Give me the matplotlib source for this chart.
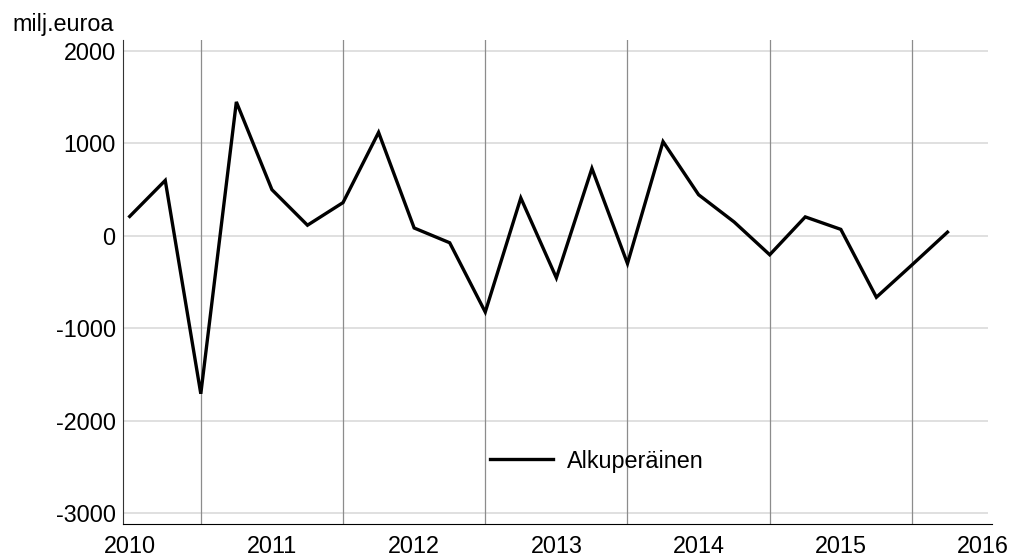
import matplotlib
matplotlib.use('Agg')
import matplotlib.pyplot as plt

plt.rcParams['font.family'] = ['Liberation Sans', 'DejaVu Sans']
plt.rcParams['axes.unicode_minus'] = False

# quarterly values 2010Q1 .. 2015Q4, milj. euroa
quarters = list(range(24))
values = [210, 600, -1710, 1450, 500, 115, 360, 1120,
          85, -75, -825, 410, -455, 730, -300, 1020,
          445, 150, -205, 205, 70, -665, -315, 40]
years = ["2010", "2011", "2012", "2013", "2014", "2015", "2016"]
year_pos = [0, 4, 8, 12, 16, 20, 24]
year_lines = [2, 6, 10, 14, 18, 22]
yticks = [2000, 1000, 0, -1000, -2000, -3000]

fs = 16.8

fig = plt.figure(figsize=(10.13, 5.59), dpi=100)
ax = fig.add_axes([0.121, 0.0626, 0.854, 0.8658])

for y in yticks:
    ax.axhline(y, color='#dddddd', lw=1.3, zorder=0)
for x in year_lines:
    ax.axvline(x, color='#8c8c8c', lw=0.9, zorder=1)

ax.plot(quarters, values, color='black', lw=2.4, label='Alkuperäinen',
        solid_joinstyle='miter', zorder=3)

ax.set_xlim(-0.2, 24.13)
ax.set_ylim(-3120, 2120)
ax.set_xticks(year_pos)
ax.set_xticklabels(years)
ax.set_yticks(yticks)
ax.tick_params(length=0, labelsize=fs, pad=5)
ax.tick_params(axis='x', pad=8)

for s in ['top', 'right']:
    ax.spines[s].set_visible(False)
ax.spines['left'].set_color('#333333')
ax.spines['bottom'].set_color('black')
ax.spines['bottom'].set_bounds(-0.2, 24.25)

fig.text(0.012, 0.957, 'milj.euroa', fontsize=fs, va='center', ha='left')

ax.legend(loc='center left', bbox_to_anchor=(0.411, 0.13), frameon=False,
          fontsize=fs, handlelength=2.7, handletextpad=0.6, borderpad=0)

fig.savefig('out.png', dpi=100)
plt.close()
